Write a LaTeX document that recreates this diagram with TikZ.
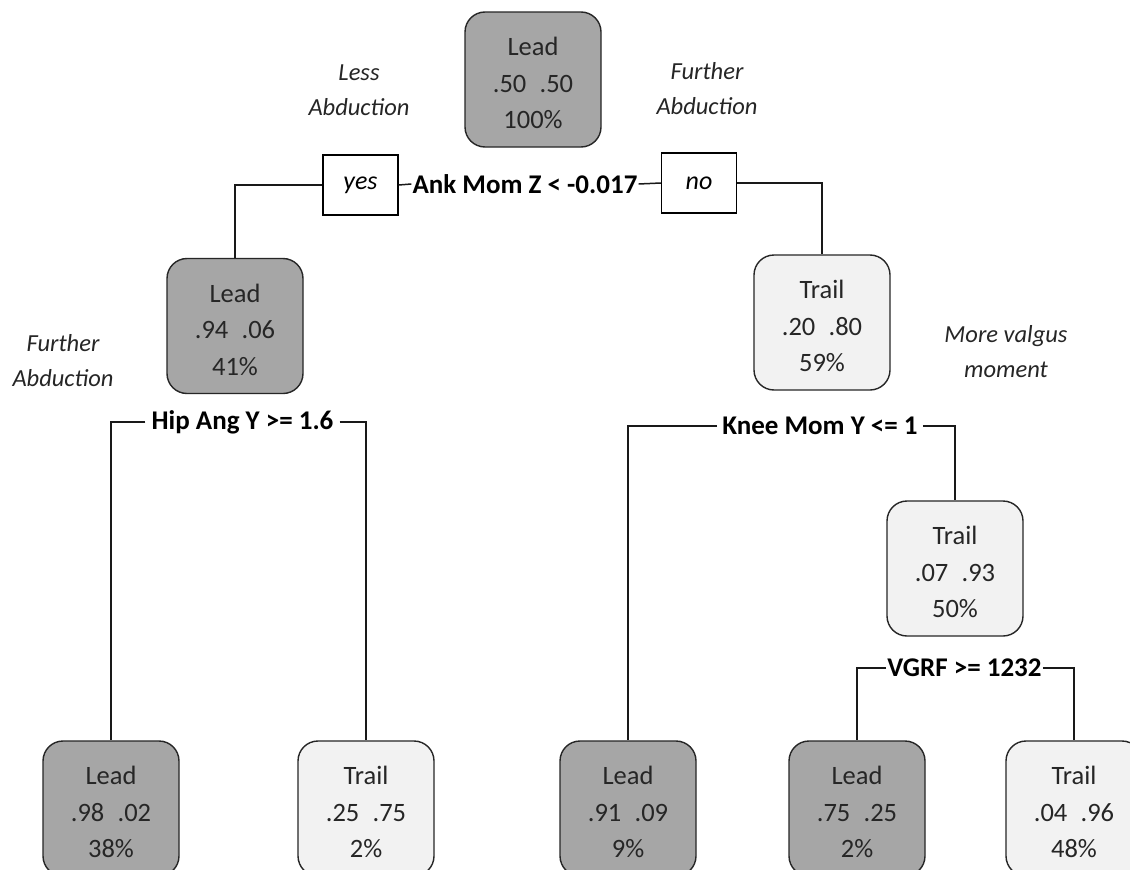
\documentclass[tikz,border=0pt]{standalone}
\usepackage{fontspec}
\setmainfont{Carlito}
\definecolor{darkfill}{HTML}{A6A6A6}
\definecolor{lightfill}{HTML}{F2F2F2}
\definecolor{edge}{HTML}{262626}
\newcommand\bxt[3]{\rule{0pt}{26pt}#1\\#2\\#3}
\begin{document}
\begin{tikzpicture}[x=1pt,y=-1pt,
  leafbox/.style={draw=edge, line width=1.4pt, rounded corners=20pt,
    minimum width=136pt, minimum height=135pt, inner sep=0pt, align=center,
    font=\fontsize{26.5}{36.5}\selectfont, text=black!85},
  leadbox/.style={leafbox, fill=darkfill},
  trailbox/.style={leafbox, fill=lightfill},
  splitlabel/.style={font=\fontsize{27}{32}\selectfont\bfseries, inner ysep=0pt},
  answerbox/.style={draw=black, line width=1.4pt, minimum width=75pt, minimum height=60pt,
    inner sep=0pt, font=\fontsize{26}{30}\selectfont\itshape},
  note/.style={align=center, font=\fontsize{24.5}{35}\selectfont\itshape, text=black!85},
  conn/.style={draw=black!90, line width=1.5pt}]
\clip (0,0) rectangle (1130,870);
\fill[white] (0,0) rectangle (1130,870);

% nodes
\node[leadbox]  (root) at (533,79.5) {\bxt{Lead}{.50\hspace{0.5em}.50}{100\%}};
\node[leadbox]  (n2)   at (235,326)  {\bxt{Lead}{.94\hspace{0.5em}.06}{41\%}};
\node[trailbox] (n3)   at (822,322.5) {\bxt{Trail}{.20\hspace{0.5em}.80}{59\%}};
\node[trailbox] (n6)   at (955,568.5) {\bxt{Trail}{.07\hspace{0.5em}.93}{50\%}};
\node[leadbox]  (l1)   at (111,808.5) {\bxt{Lead}{.98\hspace{0.5em}.02}{38\%}};
\node[trailbox] (l2)   at (366,808.5) {\bxt{Trail}{.25\hspace{0.5em}.75}{2\%}};
\node[leadbox]  (l3)   at (628,808.5) {\bxt{Lead}{.91\hspace{0.5em}.09}{9\%}};
\node[leadbox]  (l4)   at (857,808.5) {\bxt{Lead}{.75\hspace{0.5em}.25}{2\%}};
\node[trailbox] (l5)   at (1074,808.5) {\bxt{Trail}{.04\hspace{0.5em}.96}{48\%}};

\node[answerbox] (yes) at (360.5,185) {yes};
\node[answerbox] (no)  at (699,183) {no};

\node[splitlabel, inner xsep=1pt] (s1) at (525,184) {Ank Mom Z < -0.017};
\node[splitlabel, inner xsep=6pt] (s2) at (242.5,422) {Hip Ang Y >= 1.6};
\node[splitlabel, inner xsep=5pt] (s3) at (820,426) {Knee Mom Y <= 1};
\node[splitlabel, inner xsep=1pt] (s4) at (964.5,668) {VGRF >= 1232};

\node[note] (a1) at (359,90.5) {Less\\Abduction};
\node[note] (a2) at (707,89) {Further\\Abduction};
\node[note] (a3) at (63,360.5) {Further\\Abduction};
\node[note] (a4) at (1006,352) {More valgus\\moment};

% connectors
\draw[conn] (yes.west) -| (n2.north);
\draw[conn] (yes.east) -- (s1.west);
\draw[conn] (s1.east) -- (no.west);
\draw[conn] (no.east) -| (n3.north);

\draw[conn] (s2.west) -| (l1.north);
\draw[conn] (s2.east) -| (l2.north);

\draw[conn] (s3.west) -| (l3.north);
\draw[conn] (s3.east) -| (n6.north);

\draw[conn] (s4.west) -| (l4.north);
\draw[conn] (s4.east) -| (l5.north);
\end{tikzpicture}
\end{document}
